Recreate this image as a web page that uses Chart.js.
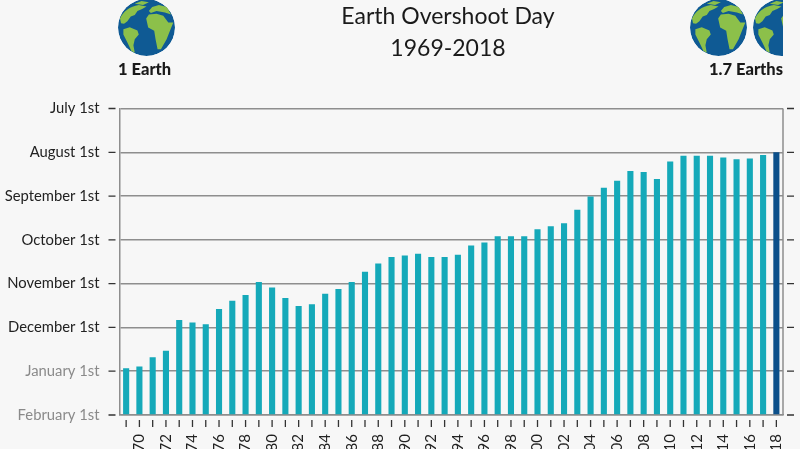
<!DOCTYPE html>
<html><head><meta charset="utf-8">
<style>
html,body{margin:0;padding:0;background:#f7f7f7;width:800px;height:449px;overflow:hidden}
#wrap{position:relative;width:800px;height:449px;overflow:hidden}
canvas{position:absolute;left:0;top:0}
.t{position:absolute;font-family:Lato,sans-serif;color:#222;white-space:nowrap}
#title{left:248px;width:400px;top:-1px;text-align:center;font-size:23px;line-height:32px;font-weight:400;color:#1a1a1a}
.lab{font-weight:900;font-size:16.5px;top:59px;color:#1a1a1a}
svg{position:absolute}
</style>
<script src="https://cdn.jsdelivr.net/npm/chart.js@4/dist/chart.umd.min.js"></script>
</head><body>
<div id="wrap">
<canvas id="c" width="800" height="449"></canvas>
<svg width="0" height="0"><defs>
<clipPath id="cp"><circle cx="85" cy="85" r="85"/></clipPath>
<g id="globe" clip-path="url(#cp)">
<circle cx="85" cy="85" r="85" fill="#0f5a94"/>
<g fill="#8cc04a">
<path d="M6,58 C15,38 35,22 62,18 L85,22 L72,30 L58,36 L50,48 L38,52 L28,66 L18,74 L9,72 Z"/>
<path d="M50,14 L70,6 L92,10 L75,18 Z"/>
<path d="M16,90 L35,84 L58,94 L62,106 L50,120 L46,138 L50,160 L40,155 L28,130 L16,106 Z"/>
<path d="M84,58 L92,46 L115,44 L135,50 L150,70 L165,70 L155,95 L145,120 L128,150 L118,150 L112,120 L108,95 L90,85 Z"/>
<path d="M92,36 L102,24 L122,18 L146,24 L158,46 L140,40 L115,36 L98,42 Z"/>
</g></g></defs></svg>
<svg style="left:118px;top:-1px" width="57" height="57" viewBox="0 0 170 170"><use href="#globe"/></svg>
<svg style="left:690px;top:-1px" width="57" height="57" viewBox="0 0 170 170"><use href="#globe"/></svg>
<svg style="left:753px;top:-1px" width="30" height="57" viewBox="0 0 89.5 170"><use href="#globe"/></svg>
<div class="t" id="title">Earth Overshoot Day<br>1969-2018</div>
<div class="t lab" style="left:118px">1 Earth</div>
<div class="t lab" style="right:17px">1.7 Earths</div>
</div>
<script>
const categories=['69','70','71','72','73','74','75','76','77','78','79','80','81','82','83','84','85','86','87','88','89','90','91','92','93','94','95','96','97','98','99','00','01','02','03','04','05','06','07','08','09','10','11','12','13','14','15','16','17','18'];
const monthsPastFeb=[1.07,1.11,1.32,1.47,2.17,2.11,2.07,2.42,2.61,2.74,3.04,2.91,2.67,2.49,2.53,2.77,2.88,3.04,3.27,3.46,3.61,3.64,3.68,3.61,3.61,3.66,3.87,3.94,4.08,4.08,4.08,4.24,4.31,4.38,4.69,4.99,5.19,5.35,5.57,5.55,5.39,5.79,5.92,5.92,5.92,5.88,5.84,5.86,5.94,6.0];
const yTickLabels=['February 1st','January 1st','December 1st','November 1st','October 1st','September 1st','August 1st','July 1st'];
const barColor='#15a9b9', lastColor='#0b4f8a', lineColor='#8e8e8e', markColor='#333';

const marks={id:'marks',afterDraw(ch){
  const {ctx,chartArea:a,scales:{x,y}}=ch;
  ctx.save();
  ctx.strokeStyle=lineColor;ctx.lineWidth=1.5;
  ctx.beginPath();ctx.moveTo(a.right,a.top);ctx.lineTo(a.right,a.bottom);ctx.stroke();
  ctx.strokeStyle=markColor;ctx.lineWidth=1.3;
  y.ticks.forEach((t,i)=>{const p=y.getPixelForTick(i);
    ctx.beginPath();ctx.moveTo(a.left-11,p);ctx.lineTo(a.left-4,p);
    ctx.moveTo(a.right+4,p);ctx.lineTo(a.right+11,p);ctx.stroke();});
  x.ticks.forEach((t,i)=>{const p=x.getPixelForTick(i);
    ctx.beginPath();ctx.moveTo(p,a.bottom+5);ctx.lineTo(p,a.bottom+12);ctx.stroke();});
  ctx.restore();
}};

new Chart(document.getElementById('c'),{
  type:'bar',
  data:{labels:categories,datasets:[{data:monthsPastFeb,
    backgroundColor:categories.map((c,i)=>i===categories.length-1?lastColor:barColor),
    barPercentage:0.46,categoryPercentage:1}]},
  options:{responsive:false,animation:false,
    layout:{autoPadding:false,padding:{left:0,right:17,top:108.5,bottom:0}},
    plugins:{legend:{display:false},tooltip:{enabled:false}},
    scales:{
      x:{grid:{display:false,drawTicks:false},border:{display:true,color:lineColor,width:1.5},
        afterFit(s){s.height=34;s.paddingLeft=0;s.paddingRight=0},
        ticks:{autoSkip:false,minRotation:90,maxRotation:90,padding:19,color:'#222',
          font:{family:'Lato',size:15,weight:'400'},
          callback(v,i){return i%2===1?categories[i]:''}}},
      y:{min:0,max:7,grid:{color:lineColor,lineWidth:1.5,drawTicks:false},
        border:{display:true,color:lineColor,width:1.5},
        afterFit(s){s.width=119.5;s.paddingTop=0;s.paddingBottom=0},
        ticks:{stepSize:1,padding:20,
          color(c){return c.index<2?'#8a8a8a':'#222'},
          font:{family:'Lato',size:14.8,weight:'400'},
          callback(v){return yTickLabels[v]}}}
    }},
  plugins:[marks]
});
</script>
</body></html>
